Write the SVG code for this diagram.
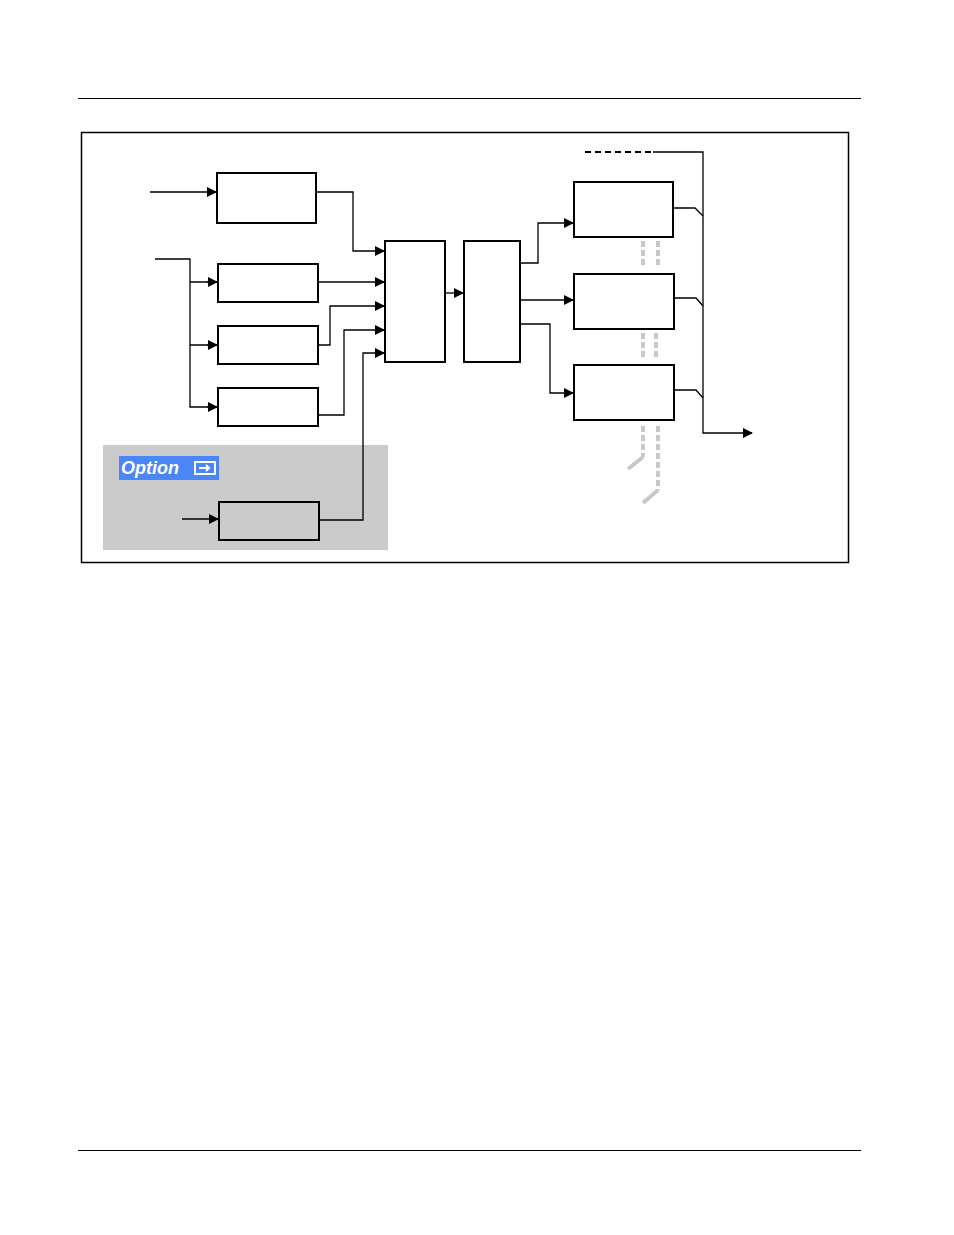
<svg xmlns="http://www.w3.org/2000/svg" width="954" height="1235" viewBox="0 0 954 1235">
<style>
.b{fill:#fff;stroke:#000;stroke-width:2}
.w{fill:none;stroke:#000;stroke-width:1.3}
.g{fill:none;stroke:#c8c8c8;stroke-width:4;stroke-dasharray:6,3}
.gs{fill:none;stroke:#c8c8c8;stroke-width:4}
</style>
<defs><marker id="a" markerWidth="10" markerHeight="10" refX="9" refY="5" orient="auto" markerUnits="userSpaceOnUse"><path d="M0,0L10,5L0,10z" fill="#000"/></marker></defs>
<rect width="954" height="1235" fill="#fff"/>
<line x1="78" y1="98.5" x2="861" y2="98.5" stroke="#000"/>
<line x1="78" y1="1150.5" x2="861" y2="1150.5" stroke="#000"/>
<rect x="81.5" y="132.5" width="767" height="430" fill="none" stroke="#000" stroke-width="1.5"/>
<rect x="103" y="445" width="285" height="105" fill="#cbcbcb"/>
<g id="option"><rect x="119" y="456" width="100" height="24" fill="#4a86f7"/>
<text x="121" y="474" font-family="Liberation Sans,sans-serif" font-size="18" font-weight="bold" font-style="italic" fill="#fff">Option</text>
<rect x="195" y="462" width="20" height="12" fill="none" stroke="#fff" stroke-width="2"/>
<path d="M199,468h10M206,465l3,3l-3,3" stroke="#fff" stroke-width="2" fill="none"/></g>
<g id="n1"><rect class="b" x="217" y="173" width="99" height="50"/></g>
<g id="n2"><rect class="b" x="218" y="264" width="100" height="38"/></g>
<g id="n3"><rect class="b" x="218" y="326" width="100" height="38"/></g>
<g id="n4"><rect class="b" x="218" y="388" width="100" height="38"/></g>
<g id="n5"><rect x="219" y="502" width="100" height="38" fill="#cbcbcb" stroke="#000" stroke-width="2"/></g>
<g id="n6"><rect class="b" x="385" y="241" width="60" height="121"/></g>
<g id="n7"><rect class="b" x="464" y="241" width="56" height="121"/></g>
<g id="n8"><rect class="b" x="574" y="182" width="99" height="55"/></g>
<g id="n9"><rect class="b" x="574" y="274" width="100" height="55"/></g>
<g id="n10"><rect class="b" x="574" y="365" width="100" height="55"/></g>
<g id="connectors">
<path class="w" d="M150,192H216" marker-end="url(#a)"/>
<path class="w" d="M155,259H190V407H217M190,282H217M190,345H217" />
<path class="w" d="M207,282H217" marker-end="url(#a)"/>
<path class="w" d="M207,345H217" marker-end="url(#a)"/>
<path class="w" d="M207,407H217" marker-end="url(#a)"/>
<path class="w" d="M316,192H353V251H384" marker-end="url(#a)"/>
<path class="w" d="M318,282H384" marker-end="url(#a)"/>
<path class="w" d="M318,345H330V306H384" marker-end="url(#a)"/>
<path class="w" d="M318,415H344V330H384" marker-end="url(#a)"/>
<path class="w" d="M319,520H363V353H384" marker-end="url(#a)"/>
<path class="w" d="M182,519H218" stroke-width="2" marker-end="url(#a)"/>
<path class="w" d="M445,293H463" stroke-width="2" marker-end="url(#a)"/>
<path class="w" d="M520,263H538V223H573" stroke-width="1.5" marker-end="url(#a)"/>
<path class="w" d="M520,300H573" stroke-width="2" marker-end="url(#a)"/>
<path class="w" d="M520,324H550V393H573" marker-end="url(#a)"/>
<path d="M585,152H653" stroke="#000" stroke-width="2" stroke-dasharray="6,4"/>
<path class="w" stroke-width="2" d="M653,152H703V433H752" marker-end="url(#a)"/>
<path class="w" stroke-width="2" d="M673,208H695L703,216M674,298H696L703,306M674,390H696L703,398"/>
<path class="g" d="M643,241V268M658,241V268M643,333V360M656,333V360M643,426V457M658,426V490"/>
<path class="gs" d="M643,457L628,469M658,490L643,503"/>
</g>
</svg>
